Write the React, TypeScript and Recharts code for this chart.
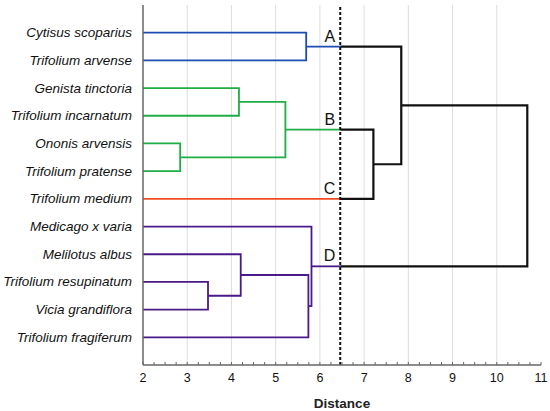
import React from "react";
import {
  ComposedChart,
  Line,
  Scatter,
  XAxis,
  YAxis,
  ReferenceLine,
} from "recharts";

// leaves, top to bottom
const leaves = [
  "Cytisus scoparius",
  "Trifolium arvense",
  "Genista tinctoria",
  "Trifolium incarnatum",
  "Ononis arvensis",
  "Trifolium pratense",
  "Trifolium medium",
  "Medicago x varia",
  "Melilotus albus",
  "Trifolium resupinatum",
  "Vicia grandiflora",
  "Trifolium fragiferum",
];

// merge steps: children are leaf indices (0-11) or earlier merges (12+)
const mergeLeft = [4, 9, 2, 8, 14, 0, 15, 7, 16, 17, 21];
const mergeRight = [5, 10, 3, 13, 12, 1, 11, 18, 6, 20, 19];
const mergeDistance = [2.84, 3.47, 4.17, 4.21, 5.22, 5.69, 5.74, 5.81, 7.21, 7.84, 10.69];

const cutDistance = 6.46;
const clusterNames = ["A", "B", "C", "D"];
const clusterNodes = [17, 16, 6, 19];
const clusterColors = ["#1d4db3", "#1fad45", "#f04a22", "#4a1a8a"];

const majorTicks = [2, 3, 4, 5, 6, 7, 8, 9, 10, 11];
const minorTicks = majorTicks.slice(0, -1).flatMap((t) => [t, t + 0.25, t + 0.5, t + 0.75]).concat([11]);

const FONT = "'Liberation Sans', Arial, sans-serif";
const AXIS = "#666666";
const BLACK = "#111111";

// layout of the tree
const n = leaves.length;
const height: number[] = leaves.map(() => majorTicks[0]);
const pos: number[] = leaves.map((_, i) => i + 1);
mergeDistance.forEach((d, k) => {
  height.push(d);
  pos.push((pos[mergeLeft[k]] + pos[mergeRight[k]]) / 2);
});

const color: string[] = pos.map(() => BLACK);
function paint(node: number, col: string) {
  color[node] = col;
  if (node >= n) {
    paint(mergeLeft[node - n], col);
    paint(mergeRight[node - n], col);
  }
}
clusterNodes.forEach((node, c) => paint(node, clusterColors[c]));

type Pt = { x: number; y: number };
const segments: { points: Pt[]; color: string; width: number }[] = [];
mergeDistance.forEach((d, k) => {
  const node = n + k;
  const a = mergeLeft[k];
  const b = mergeRight[k];
  if (d < cutDistance) {
    segments.push({
      points: [
        { x: height[a], y: pos[a] },
        { x: d, y: pos[a] },
        { x: d, y: pos[b] },
        { x: height[b], y: pos[b] },
      ],
      color: color[node],
      width: 1.8,
    });
  } else {
    const start = (c: number) => Math.max(height[c], cutDistance);
    segments.push({
      points: [
        { x: start(a), y: pos[a] },
        { x: d, y: pos[a] },
        { x: d, y: pos[b] },
        { x: start(b), y: pos[b] },
      ],
      color: BLACK,
      width: 2.2,
    });
    [a, b].forEach((c) => {
      if (height[c] < cutDistance) {
        segments.push({
          points: [
            { x: height[c], y: pos[c] },
            { x: cutDistance, y: pos[c] },
          ],
          color: color[c],
          width: 1.8,
        });
      }
    });
  }
});

const clusterLabels = clusterNodes.map((node, c) => ({
  x: cutDistance,
  y: pos[node],
  label: clusterNames[c],
}));

const BottomTick = (props: any) => {
  const { x, y, payload } = props;
  const v = payload.value;
  return (
    <g>
      <line x1={x} y1={y} x2={x} y2={y - 3} stroke={AXIS} strokeWidth={1} />
      {Number.isInteger(v) && (
        <text x={x} y={y + 17} textAnchor="middle" fontSize={12.5} fontFamily={FONT} fill="#111">
          {v}
        </text>
      )}
    </g>
  );
};

const TopTick = (props: any) => {
  const { x, y } = props;
  return <line x1={x} y1={y} x2={x} y2={y + 3} stroke={AXIS} strokeWidth={1} />;
};

const LeftTick = (props: any) => {
  const { x, y, payload } = props;
  return (
    <text
      x={x - 11}
      y={y}
      textAnchor="end"
      dominantBaseline="central"
      fontSize={13.5}
      fontStyle="italic"
      fontFamily={FONT}
      fill="#111"
    >
      {leaves[payload.value - 1]}
    </text>
  );
};

const RightTick = (props: any) => {
  const { x, y } = props;
  return <line x1={x} y1={y} x2={x - 3} y2={y} stroke={AXIS} strokeWidth={1} />;
};

const ClusterLabel = (props: any) => {
  const { cx, cy, payload } = props;
  return (
    <text x={cx - 5} y={cy - 5} textAnchor="end" fontSize={16} fontFamily={FONT} fill="#111">
      {payload.label}
    </text>
  );
};

export default function App() {
  return (
    <div style={{ position: "absolute", left: 0, top: 0, background: "#fff" }}>
      <ComposedChart width={550} height={411} margin={{ top: 5, right: 9, bottom: 0, left: 0 }}>
        <XAxis
          xAxisId={0}
          dataKey="x"
          type="number"
          domain={[2, 11]}
          ticks={minorTicks}
          interval={0}
          tickSize={0}
          tickMargin={0}
          tick={BottomTick}
          height={46}
          stroke={AXIS}
          strokeWidth={1.5}
          label={{
            value: "Distance",
            position: "insideBottom",
            offset: 3,
            fontSize: 13.5,
            fontWeight: "bold",
            fontFamily: FONT,
            fill: "#222",
          }}
        />
        <XAxis
          xAxisId="top"
          orientation="top"
          dataKey="x"
          type="number"
          domain={[2, 11]}
          ticks={minorTicks}
          interval={0}
          tickSize={0}
          tickMargin={0}
          tick={TopTick}
          height={0}
          stroke={AXIS}
        />
        <YAxis
          yAxisId={0}
          dataKey="y"
          type="number"
          domain={[0, 13]}
          reversed
          ticks={leaves.map((_, i) => i + 1)}
          interval={0}
          tickSize={0}
          tickMargin={0}
          tick={LeftTick}
          width={143}
          stroke={AXIS}
          strokeWidth={1.5}
        />
        <YAxis
          yAxisId="right"
          orientation="right"
          dataKey="y"
          type="number"
          domain={[0, 13]}
          reversed
          ticks={leaves.map((_, i) => i + 1)}
          interval={0}
          tickSize={0}
          tickMargin={0}
          tick={RightTick}
          width={0}
          stroke={AXIS}
        />
        {majorTicks.slice(1, -1).map((t) => (
          <ReferenceLine key={`grid-${t}`} x={t} stroke="#dddddd" strokeWidth={1} />
        ))}
        {segments.map((s, i) => (
          <Line
            key={`seg-${i}`}
            data={s.points}
            dataKey="y"
            stroke={s.color}
            strokeWidth={s.width}
            dot={false}
            activeDot={false}
            isAnimationActive={false}
            strokeLinejoin="miter"
          />
        ))}
        <ReferenceLine x={cutDistance} stroke="#111" strokeWidth={2} strokeDasharray="3 2" />
        <Scatter data={clusterLabels} dataKey="y" shape={ClusterLabel} isAnimationActive={false} />
      </ComposedChart>
    </div>
  );
}
